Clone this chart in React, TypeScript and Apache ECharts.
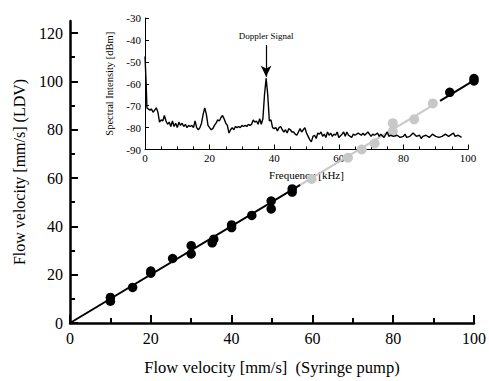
import React, { useEffect, useRef } from "react";
import * as echarts from "echarts";

const FONT = "Liberation Serif";

// Main plot: LDV vs syringe pump
const blackX = [10, 10, 15.5, 20, 20, 25.4, 30, 30, 35.2, 35.6, 40, 40, 45, 49.8, 49.8, 55, 55, 94, 100, 100];
const blackY = [10.6, 9, 14.7, 21.5, 20.6, 26.7, 32, 28.6, 33.2, 34.7, 40.6, 39.5, 44.5, 50.5, 47.2, 54.2, 55.5, 95.5, 101.2, 100.2];
const greyX = [59.8, 68.8, 72.2, 75.4, 79.9, 79.9, 85.2, 89.8];
const greyY = [59.6, 68.4, 71.8, 74.3, 82.7, 79.3, 84.3, 90.9];
const fitBlackA = [[0, 0], [57, 57.2]];
const fitGrey = [[57, 57.2], [90.6, 90.9]];
const fitBlackB = [[91.6, 91.9], [100, 100.4]];

const yTicks = [0, 20, 40, 60, 80, 100, 120];
const yMinorTicks = [10, 30, 50, 70, 90, 110];

// Inset: spectrum
const specFreq = [
  0, 0.3, 0.6, 1, 1.5, 2, 2.5, 3, 3.5, 4, 4.5, 5, 5.5, 6, 6.5, 7, 7.5, 8, 8.5, 9, 9.5, 10,
  10.5, 11, 11.5, 12, 12.5, 13, 13.5, 14, 14.5, 15, 15.5, 16, 16.5, 17, 17.5, 18, 18.5, 19,
  19.5, 20, 20.5, 21, 21.5, 22, 22.5, 23, 23.5, 24, 24.5, 25, 25.5, 26, 26.5, 27, 27.5, 28,
  28.5, 29, 29.5, 30, 30.5, 31, 31.5, 32, 32.5, 33, 33.5, 34, 34.5, 35, 35.5, 36, 36.5, 37,
  37.5, 38, 38.5, 39, 39.5, 40, 40.5, 41, 41.5, 42, 42.5, 43, 43.5, 44, 44.5, 45, 45.5, 46,
  46.5, 47, 47.5, 48, 48.5, 49, 49.5, 50, 50.5, 51, 51.5, 52, 52.5, 53, 53.5, 54, 54.5, 55,
  55.5, 56, 56.5, 57, 57.5, 58, 58.5, 59, 59.5, 60, 61, 61.5, 62, 62.5, 63, 64, 64.5, 65,
  66, 67, 67.5, 68, 69, 70, 70.5, 71, 72, 72.5, 73, 74, 75, 75.5, 76, 77, 78, 79, 80, 80.5,
  81, 82, 83, 84, 85, 85.5, 86, 87, 88, 89, 90, 91, 92, 93, 94, 95, 95.5, 96, 97, 98,
];
const specDbm = [
  -47.5, -58, -71, -71.5, -72, -71.5, -73, -72, -71, -73, -77.5, -76.5, -77, -74.5, -77, -78.5, -77.5, -79.5, -77, -79.5, -78, -80,
  -77.5, -79, -78, -79.5, -78.5, -80, -79, -79.5, -79, -80, -77, -80, -81, -80, -78, -74, -71, -74,
  -79, -80, -81, -80.5, -79, -78, -76.5, -77, -75.5, -74.5, -76, -78, -79, -82.5, -81, -80, -81, -79.5,
  -80, -79.5, -80, -79, -79.5, -79, -79.5, -78.5, -79, -78.5, -76.5, -77.5, -77, -78.5, -76, -78.5, -76, -65,
  -57.5, -65, -77, -76.5, -80, -80.5, -80, -81.5, -80, -79.5, -81, -82, -81, -82.5, -80.5, -81, -82, -82,
  -83, -83.5, -82, -80.5, -82, -81, -80, -82.5, -84, -85.5, -86.5, -84, -83.5, -85, -82.5, -83, -82, -84,
  -83, -84.5, -82, -83.5, -82.5, -84, -83, -83.5, -82, -84.5, -83, -82, -84, -82, -83.5, -84.5, -83, -83.5,
  -82.5, -83.5, -82.5, -83.5, -82, -84, -83, -83.5, -82.5, -84, -83, -84.5, -82, -84, -83.5, -84, -83.5, -84.5, -84, -83,
  -84.5, -84, -82.5, -84, -83.5, -85, -84, -83.5, -84.5, -83, -84, -84.5, -84, -83, -84, -83, -82.5, -84, -83.5, -84.5,
];
const dopplerFreq = 37.5;
const dopplerArrow = [-42.3, -56.8];

export default function App() {
  const ref = useRef<HTMLDivElement>(null);

  useEffect(() => {
    if (!ref.current) return;
    const chart = echarts.init(ref.current, null, { renderer: "svg" });
    const axisTxt = { color: "#000", fontFamily: FONT };

    const option: any = {
      animation: false,
      backgroundColor: "#fff",
      textStyle: { fontFamily: FONT, color: "#000" },
      grid: [
        { left: 70, top: 21, width: 407, height: 307, containLabel: false },
        { left: 145, top: 18, width: 323, height: 131.5, containLabel: false },
      ],
      xAxis: [
        {
          gridIndex: 0, type: "value", min: 0, max: 100, interval: 20,
          axisLine: { lineStyle: { color: "#000", width: 2.5 } },
          axisTick: { inside: true, length: 8, lineStyle: { color: "#000", width: 2 } },
          minorTick: { show: true, splitNumber: 2, length: 5, lineStyle: { color: "#000", width: 2 } },
          splitLine: { show: false },
          axisLabel: { ...axisTxt, fontSize: 16, margin: 7 },
          name: "Flow velocity [mm/s]\u00a0\u00a0(Syringe pump)",
          nameLocation: "middle", nameGap: 36,
          nameTextStyle: { ...axisTxt, fontSize: 16.5 },
        },
        {
          gridIndex: 1, type: "value", min: 0, max: 100, interval: 20,
          axisLine: { lineStyle: { color: "#000", width: 1 } },
          axisTick: { inside: true, length: 5, lineStyle: { color: "#000", width: 1 } },
          minorTick: { show: true, splitNumber: 4, length: 3, lineStyle: { color: "#000", width: 1 } },
          splitLine: { show: false },
          axisLabel: { ...axisTxt, fontSize: 11, margin: 3 },
          name: "Frequency [kHz]", nameLocation: "middle", nameGap: 20,
          nameTextStyle: { ...axisTxt, fontSize: 11 },
        },
      ],
      yAxis: [
        {
          gridIndex: 0, type: "value", min: 0, max: 125, position: "left",
          axisLine: { lineStyle: { color: "#000", width: 2.5 } },
          axisTick: { inside: true, length: 8, customValues: yTicks, lineStyle: { color: "#000", width: 2 } },
          splitLine: { show: false },
          axisLabel: { ...axisTxt, fontSize: 16, margin: 7, customValues: yTicks },
          name: "Flow velocity [mm/s] (LDV)", nameLocation: "middle", nameGap: 43,
          nameTextStyle: { ...axisTxt, fontSize: 16 },
        },
        {
          gridIndex: 0, type: "value", min: 0, max: 125, position: "left",
          axisLine: { show: false },
          axisTick: { inside: true, length: 5, customValues: yMinorTicks, lineStyle: { color: "#000", width: 2 } },
          splitLine: { show: false },
          axisLabel: { show: false },
        },
        {
          gridIndex: 1, type: "value", min: -90, max: -30, interval: 10,
          axisLine: { lineStyle: { color: "#000", width: 1 } },
          axisTick: { inside: true, length: 4, lineStyle: { color: "#000", width: 1 } },
          splitLine: { show: false },
          axisLabel: { ...axisTxt, fontSize: 11, margin: 4 },
          name: "Spectral Intensity [dBm]", nameLocation: "middle", nameGap: 24,
          nameTextStyle: { ...axisTxt, fontSize: 10.5 },
        },
      ],
      series: [
        {
          type: "line", xAxisIndex: 0, yAxisIndex: 0, data: fitBlackA, symbol: "none",
          lineStyle: { color: "#000", width: 2 }, z: 2,
        },
        {
          type: "line", xAxisIndex: 0, yAxisIndex: 0, data: fitGrey, symbol: "none",
          lineStyle: { color: "#c8c8c8", width: 2 }, z: 2,
        },
        {
          type: "line", xAxisIndex: 0, yAxisIndex: 0, data: fitBlackB, symbol: "none",
          lineStyle: { color: "#000", width: 2 }, z: 2,
        },
        {
          type: "scatter", xAxisIndex: 0, yAxisIndex: 0,
          data: blackX.map((x, i) => [x, blackY[i]]),
          symbolSize: 9.5, itemStyle: { color: "#000", opacity: 1 }, z: 3,
        },
        {
          type: "scatter", xAxisIndex: 0, yAxisIndex: 0,
          data: greyX.map((x, i) => [x, greyY[i]]),
          symbolSize: 10, itemStyle: { color: "#c8c8c8", opacity: 1 }, z: 3,
        },
        {
          type: "line", xAxisIndex: 1, yAxisIndex: 2,
          data: specFreq.map((f, i) => [f, specDbm[i]]),
          symbol: "none", lineStyle: { color: "#000", width: 1.4 }, z: 5,
          markLine: {
            silent: true, symbol: ["none", "arrow"], symbolSize: [8, 11],
            lineStyle: { color: "#000", width: 1.2, type: "solid" },
            label: {
              show: true, position: "start", formatter: "Doppler Signal",
              fontFamily: FONT, fontSize: 9, color: "#000", distance: 4,
            },
            data: [[
              { coord: [dopplerFreq, dopplerArrow[0]] },
              { coord: [dopplerFreq, dopplerArrow[1]] },
            ]],
          },
        },
      ],
    };
    chart.setOption(option);
    return () => chart.dispose();
  }, []);

  return (
    <div
      ref={ref}
      style={{ position: "fixed", left: 0, top: 0, width: 489, height: 381, background: "#fff" }}
    />
  );
}
